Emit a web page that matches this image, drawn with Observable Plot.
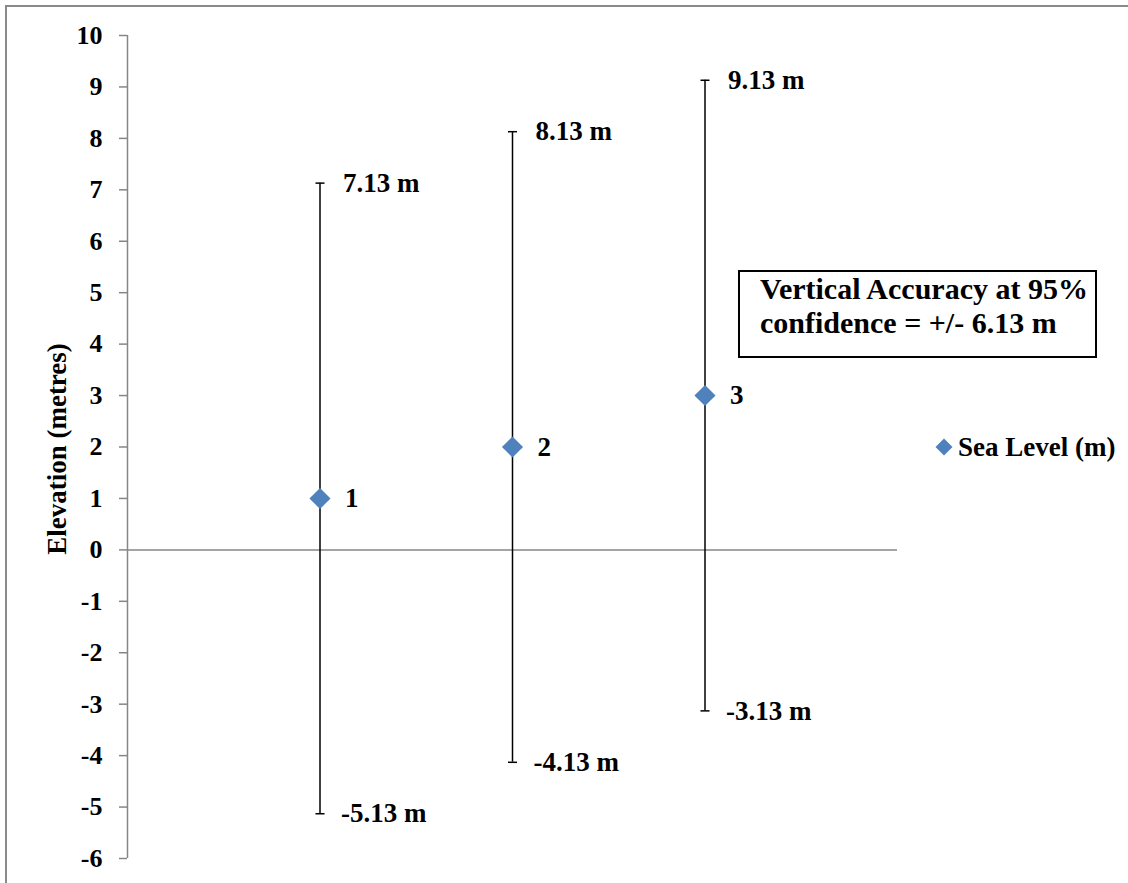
<!DOCTYPE html>
<html>
<head>
<meta charset="utf-8">
<script src="https://cdn.jsdelivr.net/npm/d3@7"></script>
<script src="https://cdn.jsdelivr.net/npm/@observablehq/plot@0.6"></script>
<style>
  html, body { margin: 0; padding: 0; background: #fff; overflow: hidden; }
  #wrap { position: relative; width: 1128px; height: 883px; overflow: hidden;
          font-family: "Liberation Serif", "Times New Roman", serif; font-weight: bold; color: #000; }
  #frame { position: absolute; left: 5px; top: 5px; width: 1300px; height: 1000px;
           border: 2px solid #8a8a8a; box-sizing: border-box; }
  #chart { position: absolute; left: 0; top: 0; }
  #note { position: absolute; left: 738px; top: 270px; width: 359px; height: 88px; box-sizing: border-box;
          border: 2px solid #000; padding: 0 0 0 20px; font-size: 30px; line-height: 34px; background: #fff; white-space: nowrap; }
  #legend { position: absolute; left: 935px; top: 432px; height: 30px; line-height: 30px;
            display: flex; align-items: center; font-size: 27px; white-space: nowrap; }
  #legend .sw { width: 12px; height: 12px; background: #4F81BD; transform: rotate(45deg); margin: 0 8px 0 3px; }
</style>
</head>
<body>
<div id="wrap">
  <div id="frame"></div>
  <div id="chart"></div>
  <div id="note"></div>
  <div id="legend"></div>
</div>
<script>
// ---- data ----
const categories = [1, 2, 3];
const seaLevel = [1, 2, 3];
const upper = [7.13, 8.13, 9.13];
const lower = [-5.13, -4.13, -3.13];
const yTicks = [-6, -5, -4, -3, -2, -1, 0, 1, 2, 3, 4, 5, 6, 7, 8, 9, 10];
const yTitle = "Elevation (metres)";
const seriesName = "Sea Level (m)";
const noteLines = ["Vertical Accuracy at 95%", "confidence = +/- 6.13 m"];

const data = categories.map((c, i) => ({cat: c, val: seaLevel[i], hi: upper[i], lo: lower[i]}));
const fmt = v => `${v.toFixed(2)} m`;

const gray = "#868686";
const blue = "#4F81BD";
const font = "'Liberation Serif', 'Times New Roman', serif";

const capSymbol = {
  draw(ctx) { ctx.moveTo(-4.5, 0); ctx.lineTo(4.5, 0); }
};

const chart = Plot.plot({
  width: 1128,
  height: 883,
  marginLeft: 127,
  marginRight: 231,
  marginTop: 35,
  marginBottom: 25,
  style: {fontFamily: font, fontSize: "27px", fontWeight: "bold", background: "transparent", color: "#000", overflow: "visible"},
  x: {domain: [0, 4], axis: null},
  y: {domain: [-6, 10]},
  marks: [
    Plot.axisY({ticks: yTicks, tickFormat: d => String(d), tickSize: 8, tickPadding: 17,
                stroke: gray, strokeWidth: 1.5, color: "#000", fontSize: 26, fontWeight: "bold", label: null}),
    Plot.ruleX([0], {stroke: gray, strokeWidth: 1.5}),
    Plot.ruleY([0], {stroke: gray, strokeWidth: 1.5}),
    Plot.ruleX(data, {x: "cat", y1: "lo", y2: "hi", stroke: "#000", strokeWidth: 1.5}),
    Plot.dot(data, {x: "cat", y: "hi", symbol: capSymbol, stroke: "#000", strokeWidth: 1.5, fill: "none"}),
    Plot.dot(data, {x: "cat", y: "lo", symbol: capSymbol, stroke: "#000", strokeWidth: 1.5, fill: "none"}),
    Plot.dot(data, {x: "cat", y: "val", symbol: "diamond2", r: 9.5, fill: blue, stroke: "none"}),
    Plot.text(data, {x: "cat", y: "val", text: d => String(d.cat), textAnchor: "start", dx: 25, fontSize: 27, fontWeight: "bold", fill: "#000"}),
    Plot.text(data, {x: "cat", y: "hi", text: d => fmt(d.hi), textAnchor: "start", dx: 23, fontSize: 27, fontWeight: "bold", fill: "#000"}),
    Plot.text(data, {x: "cat", y: "lo", text: d => fmt(d.lo), textAnchor: "start", dx: 21, fontSize: 27, fontWeight: "bold", fill: "#000"}),
    Plot.text([yTitle], {frameAnchor: "left", text: d => d, rotate: -90, textAnchor: "middle", dx: -70, dy: 2, fontSize: 27, fontWeight: "bold", fill: "#000"})
  ]
});
document.getElementById("chart").appendChild(chart);

document.getElementById("note").innerHTML = noteLines.map(l => `<div>${l}</div>`).join("");
document.getElementById("legend").innerHTML = `<span class="sw"></span><span>${seriesName}</span>`;
</script>
</body>
</html>
